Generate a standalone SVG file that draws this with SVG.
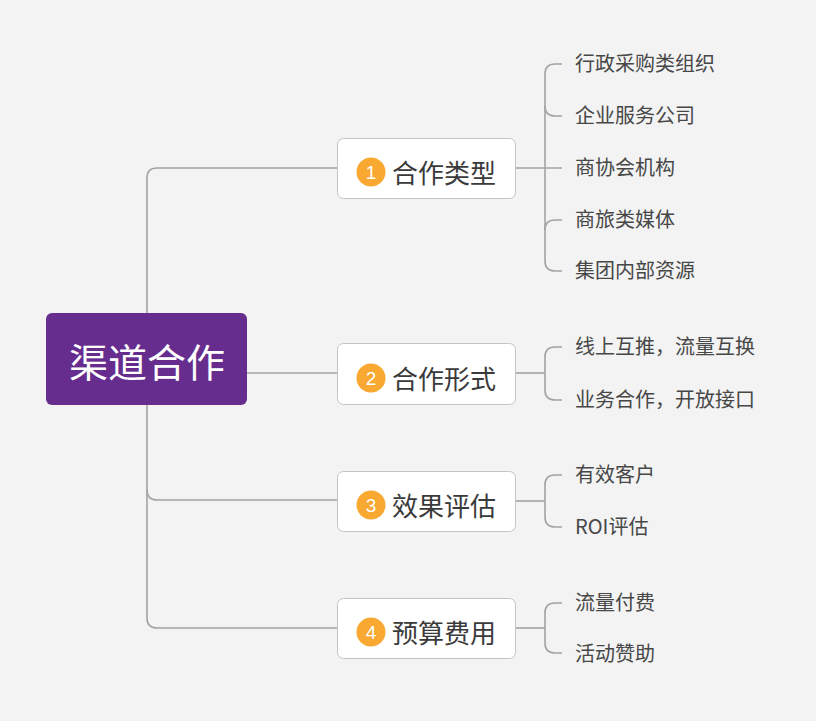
<svg xmlns="http://www.w3.org/2000/svg" width="816" height="721" viewBox="0 0 816 721">
<style>
.c{fill:none;stroke:#a3a3a3;stroke-width:1.6}
.box{fill:#fff;stroke:#c4c4c4;stroke-width:1}
.num{fill:#f9a832}
.nt{font-family:"Liberation Sans","Noto Sans",sans-serif;font-size:19px;fill:#fff;text-anchor:middle;dominant-baseline:central}
.bt{font-family:"Noto Sans CJK SC",sans-serif;font-size:26px;fill:#3a3a3a;dominant-baseline:central}
.lt{font-family:"Noto Sans CJK SC",sans-serif;font-size:20px;fill:#474747;dominant-baseline:central}
</style>
<rect width="816" height="721" fill="#f3f3f3"/>
<g id="connectors">
<path class="c" d="M337,168 H157 Q147,168 147,178 V618 Q147,628 157,628 H337"/>
<path class="c" d="M147,490 Q147,500 157,500 H337"/>
<path class="c" d="M247,373 H337"/>
<path class="c" d="M515,168 H562"/>
<path class="c" d="M562,64 H555 Q545,64 545,74 V261 Q545,271 555,271 H562"/>
<path class="c" d="M545,106 Q545,116 555,116 H562"/>
<path class="c" d="M545,230 Q545,220 555,220 H562"/>
<path class="c" d="M515,373 H545"/>
<path class="c" d="M562,347 H555 Q545,347 545,357 V390 Q545,400 555,400 H562"/>
<path class="c" d="M515,501 H545"/>
<path class="c" d="M562,475 H555 Q545,475 545,485 V517 Q545,527 555,527 H562"/>
<path class="c" d="M515,628 H545"/>
<path class="c" d="M562,603 H555 Q545,603 545,613 V643 Q545,653 555,653 H562"/>
</g>
<g id="root">
<rect x="46" y="313" width="201" height="92" rx="6" fill="#662d8f"/>
<text x="147" y="360" font-family="Noto Sans CJK SC,sans-serif" font-size="39" fill="#fff" text-anchor="middle" dominant-baseline="central">渠道合作</text>
</g>
<g id="b1">
<rect class="box" x="337.5" y="138.5" width="178" height="60" rx="6"/>
<circle class="num" cx="371" cy="172" r="14.5"/><text class="nt" x="371" y="172">1</text>
<text class="bt" x="392" y="171">合作类型</text>
</g>
<g id="b2">
<rect class="box" x="337.5" y="343.5" width="178" height="61" rx="6"/>
<circle class="num" cx="371" cy="378" r="14.5"/><text class="nt" x="371" y="378">2</text>
<text class="bt" x="392" y="377">合作形式</text>
</g>
<g id="b3">
<rect class="box" x="337.5" y="471.5" width="178" height="60" rx="6"/>
<circle class="num" cx="371" cy="505" r="14.5"/><text class="nt" x="371" y="505">3</text>
<text class="bt" x="392" y="504">效果评估</text>
</g>
<g id="b4">
<rect class="box" x="337.5" y="598.5" width="178" height="60" rx="6"/>
<circle class="num" cx="371" cy="632" r="14.5"/><text class="nt" x="371" y="632">4</text>
<text class="bt" x="392" y="631">预算费用</text>
</g>
<g id="l1"><text class="lt" x="575" y="62">行政采购类组织</text></g>
<g id="l2"><text class="lt" x="575" y="114">企业服务公司</text></g>
<g id="l3"><text class="lt" x="575" y="166">商协会机构</text></g>
<g id="l4"><text class="lt" x="575" y="218">商旅类媒体</text></g>
<g id="l5"><text class="lt" x="575" y="269">集团内部资源</text></g>
<g id="l6"><text class="lt" x="575" y="345">线上互推，流量互换</text></g>
<g id="l7"><text class="lt" x="575" y="398">业务合作，开放接口</text></g>
<g id="l8"><text class="lt" x="575" y="473">有效客户</text></g>
<g id="l9"><text class="lt" x="575" y="525">ROI评估</text></g>
<g id="l10"><text class="lt" x="575" y="601">流量付费</text></g>
<g id="l11"><text class="lt" x="575" y="652">活动赞助</text></g>
</svg>
